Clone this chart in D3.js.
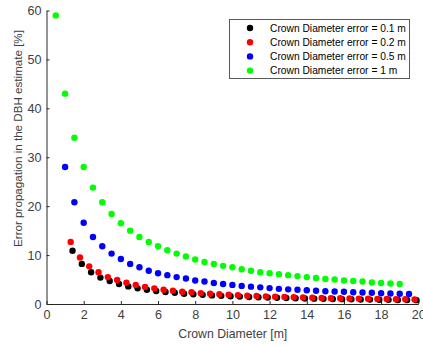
<!DOCTYPE html>
<html>
<head>
<meta charset="utf-8">
<script src="https://cdn.jsdelivr.net/npm/d3@7/dist/d3.min.js"></script>
<style>
  html, body { margin: 0; padding: 0; background: #fff; }
  svg { display: block; }
  text { font-family: "Liberation Sans", Arial, Helvetica, sans-serif; }
</style>
</head>
<body>
<div id="chart"></div>
<script>
// Crown diameter [m] for each error level
const xErr01 = [1.4,1.9,2.4,2.9,3.4,3.9,4.4,4.9,5.4,5.9,6.4,6.9,7.4,7.9,8.4,8.9,9.4,9.9,10.4,10.9,11.4,11.9,12.4,12.9,13.4,13.9,14.4,14.9,15.4,15.9,16.4,16.9,17.4,17.9,18.4,18.9,19.4,19.9];
const xErr02 = [1.3,1.8,2.3,2.8,3.3,3.8,4.3,4.8,5.3,5.8,6.3,6.8,7.3,7.8,8.3,8.8,9.3,9.8,10.3,10.8,11.3,11.8,12.3,12.8,13.3,13.8,14.3,14.8,15.3,15.8,16.3,16.8,17.3,17.8,18.3,18.8,19.3,19.8];
const xErr05 = [1,1.5,2,2.5,3,3.5,4,4.5,5,5.5,6,6.5,7,7.5,8,8.5,9,9.5,10,10.5,11,11.5,12,12.5,13,13.5,14,14.5,15,15.5,16,16.5,17,17.5,18,18.5,19,19.5];
const xErr1  = [0.5,1,1.5,2,2.5,3,3.5,4,4.5,5,5.5,6,6.5,7,7.5,8,8.5,9,9.5,10,10.5,11,11.5,12,12.5,13,13.5,14,14.5,15,15.5,16,16.5,17,17.5,18,18.5,19];

// Error propagation in the DBH estimate [%]
const yErr01 = [10.9,8.2,6.5,5.4,4.7,4.1,3.6,3.2,2.9,2.65,2.45,2.3,2.1,2.0,1.87,1.76,1.67,1.59,1.51,1.44,1.38,1.32,1.27,1.22,1.17,1.13,1.09,1.05,1.02,0.99,0.96,0.93,0.9,0.88,0.85,0.83,0.81,0.79];
const yErr02 = [12.7,9.5,7.7,6.5,5.5,4.9,4.35,3.9,3.5,3.2,2.9,2.7,2.5,2.4,2.2,2.1,2.0,1.9,1.8,1.7,1.65,1.55,1.5,1.45,1.4,1.35,1.3,1.25,1.2,1.17,1.13,1.1,1.07,1.04,1.01,0.98,0.96,0.93];
const yErr05 = [28.0,20.8,16.6,13.7,11.8,10.3,9.2,8.2,7.5,6.8,6.3,5.9,5.5,5.2,4.8,4.6,4.3,4.1,3.9,3.7,3.55,3.4,3.25,3.1,3.0,2.9,2.8,2.7,2.6,2.55,2.5,2.4,2.35,2.3,2.2,2.15,2.1,2.05];
const yErr1  = [59.0,43.0,34.0,28.0,23.8,20.8,18.4,16.5,15.0,13.7,12.7,11.8,11.0,10.3,9.7,9.1,8.6,8.2,7.8,7.5,7.1,6.8,6.5,6.3,6.1,5.9,5.7,5.5,5.3,5.1,5.0,4.8,4.7,4.6,4.4,4.3,4.2,4.1];

const seriesNames = ["Crown Diameter error = 0.1 m", "Crown Diameter error = 0.2 m", "Crown Diameter error = 0.5 m", "Crown Diameter error = 1 m"];
const seriesColors = ["#000000", "#ff0000", "#0000ff", "#00ff00"];
const xTicks = [0,2,4,6,8,10,12,14,16,18,20];
const yTicks = [0,10,20,30,40,50,60];

const series = [
  {name: seriesNames[0], color: seriesColors[0], x: xErr01, y: yErr01},
  {name: seriesNames[1], color: seriesColors[1], x: xErr02, y: yErr02},
  {name: seriesNames[2], color: seriesColors[2], x: xErr05, y: yErr05},
  {name: seriesNames[3], color: seriesColors[3], x: xErr1,  y: yErr1}
];

const W = 423, H = 345;
const axisColor = "#262626";
const labelColor = "#404040";

const svg = d3.select("#chart").append("svg")
  .attr("width", W).attr("height", H);

const x = d3.scaleLinear().domain([0, 20]).range([46.5, 418.3]);
const y = d3.scaleLinear().domain([0, 60]).range([304, 10.5]);

// Scale a text's font size so it spans the given width
function fitWidth(sel, width) {
  const w = sel.node().getComputedTextLength();
  const fs = parseFloat(sel.style("font-size"));
  sel.style("font-size", (fs * width / w).toFixed(2) + "px");
  return sel;
}

// Axes: ticks point inward
const xAxis = svg.append("g")
  .attr("transform", `translate(0,${y(0)})`)
  .call(d3.axisBottom(x).tickValues(xTicks).tickSizeInner(-3).tickSizeOuter(0).tickPadding(6.5));
const yAxis = svg.append("g")
  .attr("transform", `translate(${x(0)},0)`)
  .call(d3.axisLeft(y).tickValues(yTicks).tickSizeInner(-3).tickSizeOuter(0).tickPadding(5));

[xAxis, yAxis].forEach(g => {
  g.select(".domain").attr("stroke", axisColor).attr("stroke-width", 1);
  g.selectAll(".tick line").attr("stroke", axisColor);
  g.selectAll(".tick text")
    .attr("fill", labelColor)
    .style("font-size", "12.6px")
    .style("font-family", "'Liberation Sans', Arial, sans-serif");
});

// Axis titles
const xTitle = svg.append("text")
  .attr("x", 232.8)
  .attr("y", 337.5)
  .attr("text-anchor", "middle")
  .attr("fill", labelColor)
  .style("font-size", "12px")
  .text("Crown Diameter [m]");
fitWidth(xTitle, 109);

const yTitle = svg.append("text")
  .attr("transform", "translate(21.5,138.5) rotate(-90)")
  .attr("text-anchor", "middle")
  .attr("fill", labelColor)
  .style("font-size", "12px")
  .text("Error propagation in the DBH estimate [%]");
fitWidth(yTitle, 217);

// Markers
const plot = svg.append("g");
series.forEach(s => {
  plot.append("g")
    .selectAll("circle")
    .data(s.x.map((xv, i) => [xv, s.y[i]]))
    .join("circle")
    .attr("cx", d => x(d[0]))
    .attr("cy", d => y(d[1]))
    .attr("r", 3.2)
    .attr("fill", s.color);
});

// Legend
const legend = svg.append("g").attr("transform", "translate(229.5,19.5)");
legend.append("rect")
  .attr("width", 180).attr("height", 59)
  .attr("fill", "#fff")
  .attr("stroke", "#5a5a5a")
  .attr("stroke-width", 1);
series.forEach((s, i) => {
  const row = legend.append("g").attr("transform", `translate(0,${8.5 + i * 14.2})`);
  row.append("circle").attr("cx", 20.5).attr("cy", 0).attr("r", 3.2).attr("fill", s.color);
  const t = row.append("text")
    .attr("x", 40.5).attr("y", 0)
    .attr("dy", "0.35em")
    .attr("fill", "#000")
    .style("font-size", "11px")
    .text(s.name);
  if (i === 0) fitWidth(t, 136);
});
// Use the first row's fitted size for every row
const legendSize = legend.select("text").style("font-size");
legend.selectAll("text").style("font-size", legendSize);
</script>
</body>
</html>
